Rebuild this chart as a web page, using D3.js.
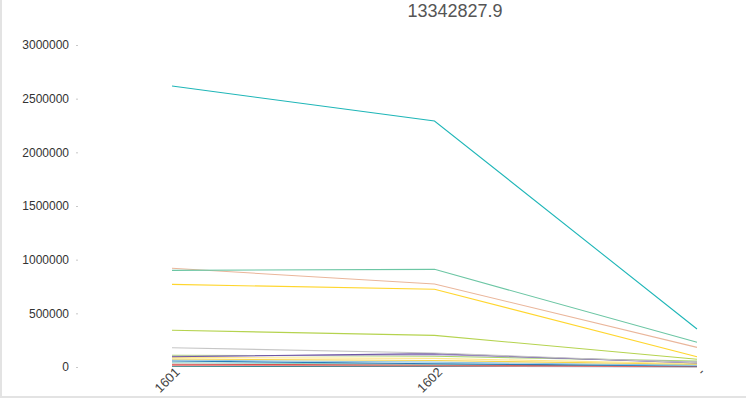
<!DOCTYPE html>
<html>
<head>
<meta charset="utf-8">
<script src="https://cdn.jsdelivr.net/npm/d3@7/dist/d3.min.js"></script>
<style>
html,body{margin:0;padding:0;background:#fff;}
svg{display:block;}
text{font-family:"Liberation Sans",Arial,sans-serif;}
</style>
</head>
<body>
<svg id="chart" width="746" height="400"></svg>
<script>
const title = "13342827.9";
const categories = ["1601", "1602", "-"];
const yTicks = [0, 500000, 1000000, 1500000, 2000000, 2500000, 3000000];
const seriesNames = ["A","B","C","D","E","F","G","H","I","J","K","L","M","N","O","P","Q","R"];
const seriesColors = ["#1fb6b8","#6cc6a4","#eab69b","#ffd62e","#b5d34f","#c6c6c6","#6f57a5","#b6a8d6","#a9d66e","#ffe78a","#f7d44c","#92c5e2","#2a7db8","#8fd3c7","#d9534f","#ea8c8c","#a2b6a2","#147d8c"];
const seriesValues = [
  [2618000, 2292000, 354000],
  [900000, 910000, 230000],
  [920000, 773000, 183000],
  [770000, 724000, 96000],
  [342000, 295000, 72000],
  [180000, 130000, 40000],
  [95000, 125000, 37000],
  [100000, 115000, 45000],
  [110000, 100000, 55000],
  [90000, 80000, 30000],
  [75000, 60000, 25000],
  [65000, 45000, 15000],
  [56000, 30000, 10000],
  [40000, 25000, 20000],
  [25000, 20000, 5000],
  [15000, 10000, 3000],
  [10000, 15000, 8000],
  [5000, 5000, 2000]
];

const svg = d3.select("#chart");
const W = 746, H = 400;

// frame
svg.append("line").attr("x1",1).attr("x2",1).attr("y1",0).attr("y2",H-3)
  .attr("stroke","#e3e3e3").attr("stroke-width",2);
svg.append("line").attr("x1",0).attr("x2",W).attr("y1",H-3).attr("y2",H-3)
  .attr("stroke","#e3e3e3").attr("stroke-width",2);

const x = d3.scalePoint().domain(categories).range([172, 697]);
const y = d3.scaleLinear().domain([0, 3000000]).range([367, 45]);

// title
svg.append("text").attr("x", 455).attr("y", 17).attr("text-anchor","middle")
  .attr("font-size", 18).attr("fill", "#555").text(title);

// y axis
const yAxis = d3.axisLeft(y).tickValues(yTicks).tickFormat(d3.format("d"))
  .tickSize(2).tickPadding(7);
const gy = svg.append("g").attr("transform","translate(78,0)").call(yAxis);
gy.select(".domain").remove();
gy.selectAll(".tick line").attr("stroke","#c8c8c8");
gy.selectAll(".tick text").attr("font-size",12).attr("fill","#333")
  .attr("font-family","'Liberation Sans',Arial,sans-serif");

// x axis
const xAxis = d3.axisBottom(x).tickSize(0).tickPadding(0);
const gx = svg.append("g").attr("transform","translate(0,367)").call(xAxis);
gx.select(".domain").remove();
gx.selectAll(".tick text").attr("font-size",13).attr("fill","#444")
  .attr("font-family","'Liberation Sans',Arial,sans-serif")
  .attr("text-anchor","end").attr("dy",null).attr("y",0)
  .attr("transform","translate(8,6) rotate(-45)");

// lines
const line = d3.line().x((d,i)=>x(categories[i])).y(d=>y(d));
svg.append("g").selectAll("path")
  .data(seriesValues.map((v,i)=>({name:seriesNames[i], color:seriesColors[i], values:v})).reverse())
  .join("path")
  .attr("d", d=>line(d.values))
  .attr("fill","none")
  .attr("stroke", d=>d.color)
  .attr("stroke-width", 1.1);
</script>
</body>
</html>
